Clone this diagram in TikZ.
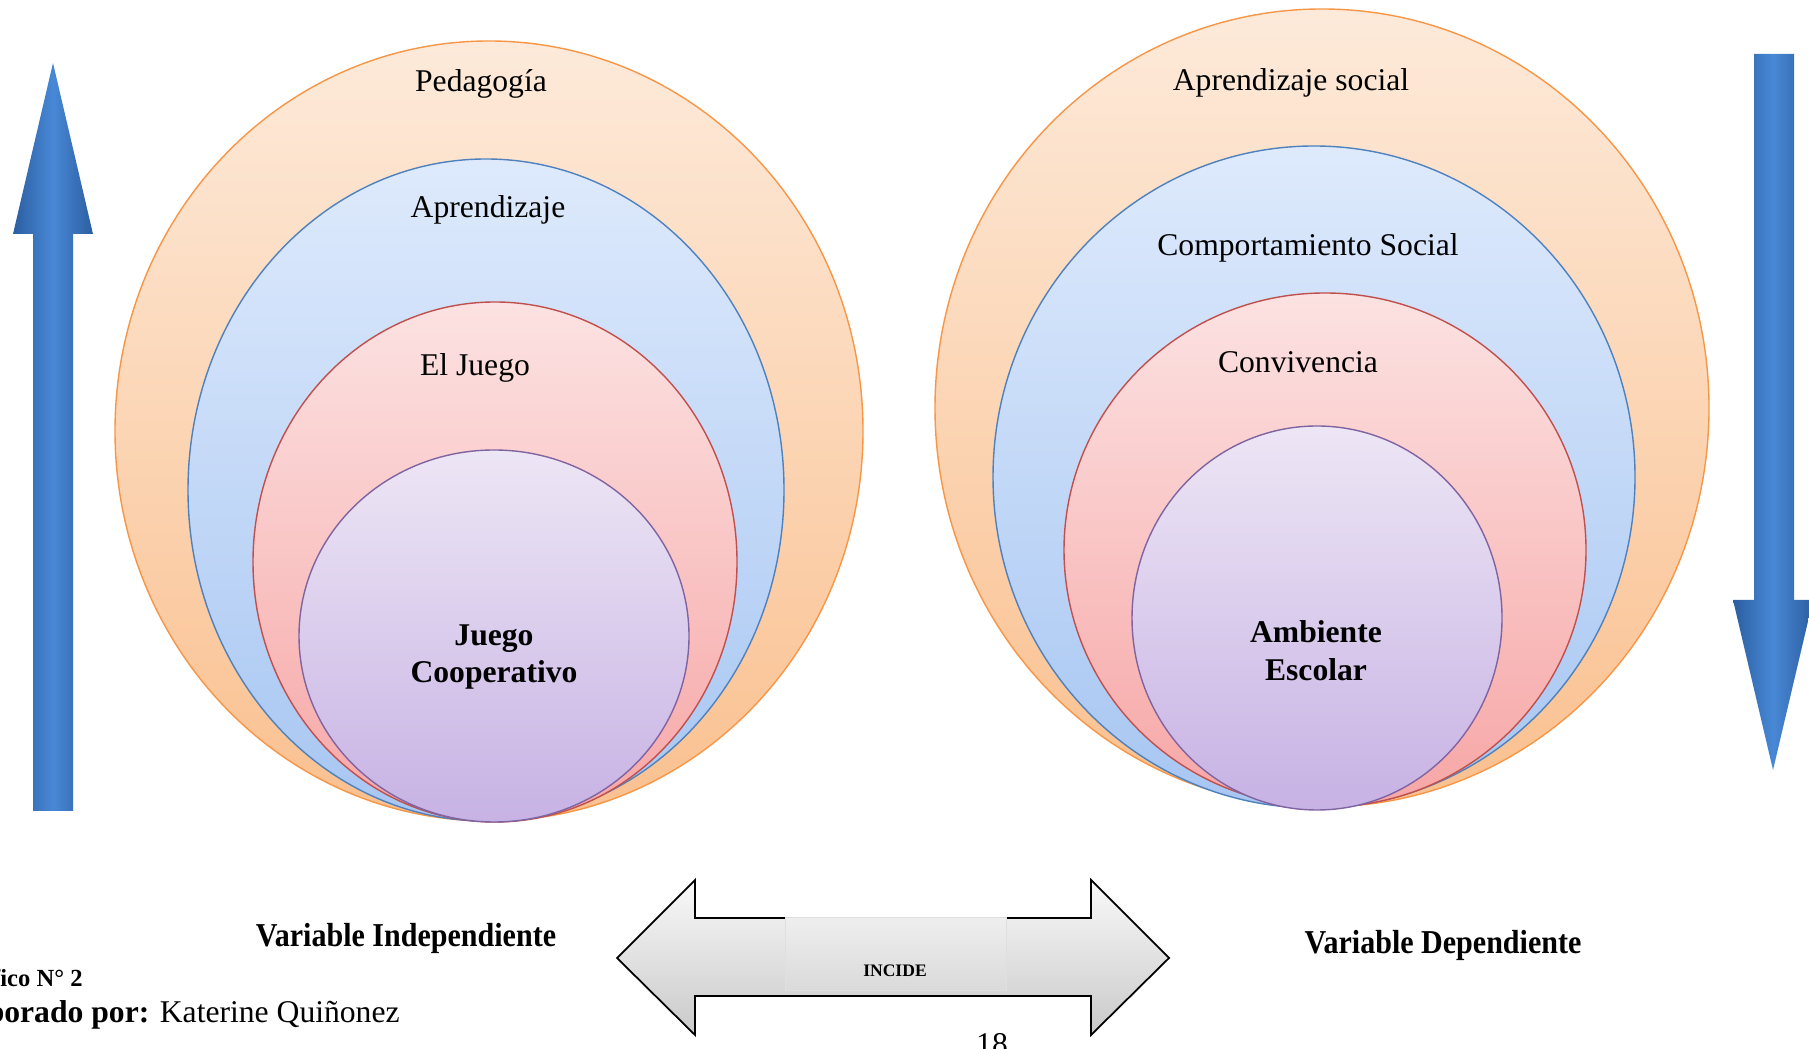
\documentclass[tikz,border=0pt]{standalone}
\usepackage{fontspec}
\setmainfont{Liberation Serif}
\newfontfamily\narrowbold[FakeStretch=0.9]{Liberation Serif}
\usepackage{tikz}

\definecolor{orangeline}{RGB}{247,150,70}
\definecolor{orangetop}{RGB}{253,234,218}
\definecolor{orangebot}{RGB}{250,192,143}
\definecolor{blueline}{RGB}{79,129,189}
\definecolor{bluetop}{RGB}{222,234,252}
\definecolor{bluebot}{RGB}{167,198,242}
\definecolor{redline}{RGB}{192,80,77}
\definecolor{redtop}{RGB}{252,226,226}
\definecolor{redbot}{RGB}{247,166,166}
\definecolor{purpleline}{RGB}{128,100,162}
\definecolor{purpletop}{RGB}{237,230,245}
\definecolor{purplebot}{RGB}{199,178,228}
\definecolor{arrowdark}{RGB}{44,94,160}
\definecolor{arrowlight}{RGB}{72,136,214}

\tikzset{
	circtext/.style={font=\fontsize{18}{21.5}\selectfont},
	circbold/.style={font=\fontsize{18}{21.5}\selectfont\bfseries, align=center},
	vartext/.style={font=\narrowbold\bfseries\fontsize{19}{22}\selectfont},
	bluearrow/.style={left color=arrowdark, right color=arrowdark, middle color=arrowlight}
}

\begin{document}
\begin{tikzpicture}
		\clip (0,0) rectangle (36.18,20.96);
		% circulos de la variable independiente
		\draw[thick, draw=orangeline, top color=orangetop, bottom color=orangebot] (9.78,12.34) ellipse (7.48 and 7.80);
		\draw[thick, draw=blueline, top color=bluetop, bottom color=bluebot] (9.72,11.16) ellipse (5.96 and 6.62);
		\draw[thick, draw=redline, top color=redtop, bottom color=redbot] (9.90,9.72) ellipse (4.84 and 5.20);
		\draw[thick, draw=purpleline, top color=purpletop, bottom color=purplebot] (9.88,8.24) ellipse (3.90 and 3.72);
		\node[circtext, anchor=base] (pedagogia) at (9.62,19.12) {Pedagogía};
		\node[circtext, anchor=base] (aprendizaje) at (9.76,16.60) {Aprendizaje};
		\node[circtext, anchor=base] (juego) at (9.50,13.44) {El Juego};
		\node[circbold] (cooperativo) at (9.88,7.82) {Juego\\Cooperativo};
		% circulos de la variable dependiente
		\draw[thick, draw=orangeline, top color=orangetop, bottom color=orangebot] (26.44,12.80) ellipse (7.74 and 7.98);
		\draw[thick, draw=blueline, top color=bluetop, bottom color=bluebot] (26.28,11.42) ellipse (6.42 and 6.62);
		\draw[thick, draw=redline, top color=redtop, bottom color=redbot] (26.50,9.96) ellipse (5.22 and 5.14);
		\draw[thick, draw=purpleline, top color=purpletop, bottom color=purplebot] (26.34,8.60) ellipse (3.70 and 3.84);
		\node[circtext, anchor=base] (social) at (25.82,19.14) {Aprendizaje social};
		\node[circtext, anchor=base] (comportamiento) at (26.16,15.84) {Comportamiento Social};
		\node[circtext, anchor=base] (convivencia) at (25.96,13.50) {Convivencia};
		\node[circbold] (ambiente) at (26.32,7.94) {Ambiente\\Escolar};
		% flechas azules
		\shade[bluearrow] (0.66,4.74) -- (1.46,4.74) -- (1.46,16.28) -- (1.86,16.28) -- (1.06,19.70) -- (0.26,16.28) -- (0.66,16.28) -- cycle;
		\shade[bluearrow] (35.08,19.88) -- (35.88,19.88) -- (35.88,8.96) -- (36.26,8.96) -- (35.46,5.56) -- (34.66,8.96) -- (35.08,8.96) -- cycle;
		% flecha doble
		\draw[line width=1pt, top color=gray!5, bottom color=gray!42] (12.34,1.80) -- (13.90,3.36) -- (13.90,2.60) -- (21.82,2.60) -- (21.82,3.36) -- (23.38,1.80) -- (21.82,0.26) -- (21.82,1.04) -- (13.90,1.04) -- (13.90,0.26) -- cycle;
		\draw[draw=gray!25, top color=gray!13, bottom color=gray!29] (15.70,2.61) rectangle (20.12,1.16);
		\node[font=\fontsize{10}{12}\selectfont\bfseries] (incide) at (17.90,1.54) {INCIDE};
		\node[vartext] (independiente) at (8.12,2.20) {Variable Independiente};
		\node[vartext] (dependiente) at (28.86,2.06) {Variable Dependiente};
		% pie
		\node[font=\fontsize{14}{16}\selectfont\bfseries, anchor=base east, inner sep=0] (grafico) at (1.66,1.24) {Gráfico N° 2};
		\node[circtext, anchor=base east, inner sep=0] (elaborado) at (8.00,0.52) {\textbf{Elaborado por:} Katerine Quiñonez};
		\node[circtext, anchor=north, inner sep=0] (pagina) at (19.84,0.29) {18};
	\end{tikzpicture}
\end{document}
